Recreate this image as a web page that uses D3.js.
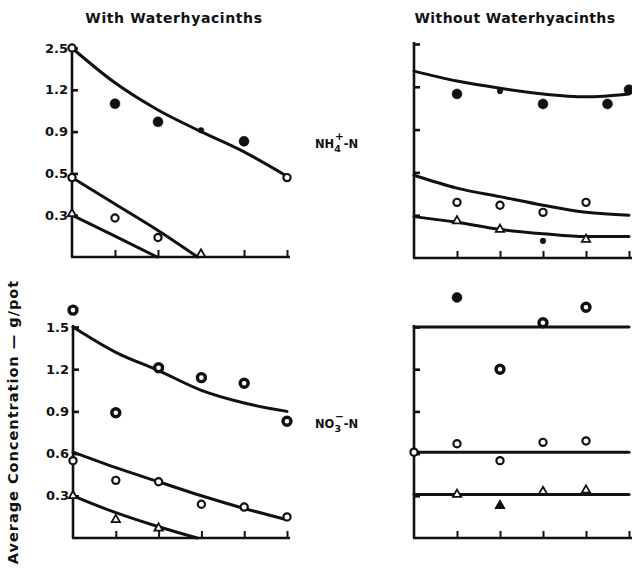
<!DOCTYPE html>
<html>
<head>
<meta charset="utf-8" />
<title>NH4 / NO3 with and without waterhyacinths</title>
<script src="https://d3js.org/d3.v7.min.js"></script>
<style>
    html, body { margin: 0; padding: 0; background: #fff; }
    svg text { font-family: "DejaVu Sans", sans-serif; font-weight: bold; fill: #111; }
</style>
</head>
<body>
<div class="canvas"></div>
<script>
    // x positions (sampling times), same for every panel
    var weeks = [0, 1, 2, 3, 4, 5];
    var yTicks = [0.3, 0.6, 0.9, 1.2, 1.5];
    var tickLabelsTop = ["0.3", "0.5", "0.9", "1.2", "2.5"];   // as printed in the scan
    var tickLabelsBottom = ["0.3", "0.6", "0.9", "1.2", "1.5"];

    // ---- NH4-N, with waterhyacinths ----
    var nhWithCurveHi = [1.50, 1.25, 1.055, 0.90, 0.755, 0.58];
    var nhWithCurveMid = [[0, 0.57], [1, 0.38], [2, 0.19], [2.92, 0]];
    var nhWithCurveLo = [[0, 0.30], [1, 0.15], [1.98, 0]];
    var nhWithFilled = [[1, 1.10], [2, 0.97], [4, 0.83]];
    var nhWithSmall = [[3, 0.91]];
    var nhWithOpen = [[0, 1.5], [0, 0.57], [1, 0.28], [2, 0.14], [5, 0.57]];
    var nhWithTri = [[0, 0.31], [3, 0.02]];

    // ---- NH4-N, without waterhyacinths ----
    var nhWithoutCurveHi = [1.31, 1.24, 1.19, 1.15, 1.13, 1.15];
    var nhWithoutCurveMid = [0.58, 0.49, 0.43, 0.37, 0.32, 0.30];
    var nhWithoutCurveLo = [0.29, 0.25, 0.20, 0.17, 0.15, 0.15];
    var nhWithoutFilled = [[1, 1.15], [3, 1.08], [4.5, 1.08], [5, 1.18]];
    var nhWithoutSmall = [[2, 1.17], [3, 0.12]];
    var nhWithoutOpen = [[1, 0.39], [2, 0.37], [3, 0.32], [4, 0.39]];
    var nhWithoutTri = [[1, 0.26], [2, 0.20], [4, 0.13]];

    // ---- NO3-N, with waterhyacinths ----
    var noWithCurveHi = [1.50, 1.32, 1.19, 1.05, 0.96, 0.90];
    var noWithCurveMid = [0.61, 0.50, 0.40, 0.30, 0.21, 0.13];
    var noWithCurveLo = [[0, 0.30], [1, 0.18], [2, 0.08], [2.9, 0]];
    var noWithRing = [[0, 1.62], [1, 0.89], [2, 1.21], [3, 1.14], [4, 1.10], [5, 0.83]];
    var noWithOpen = [[0, 0.55], [1, 0.41], [2, 0.40], [3, 0.24], [4, 0.22], [5, 0.15]];
    var noWithTri = [[0, 0.30], [1, 0.13], [2, 0.07]];

    // ---- NO3-N, without waterhyacinths ----
    var noWithoutCurveHi = [1.50, 1.50, 1.50, 1.50, 1.50, 1.50];
    var noWithoutCurveMid = [0.61, 0.61, 0.61, 0.61, 0.61, 0.61];
    var noWithoutCurveLo = [0.31, 0.31, 0.31, 0.31, 0.31, 0.31];
    var noWithoutFilled = [[1, 1.71]];
    var noWithoutRing = [[2, 1.20], [3, 1.53], [4, 1.64]];
    var noWithoutOpen = [[0, 0.61], [1, 0.67], [2, 0.55], [3, 0.68], [4, 0.69]];
    var noWithoutTri = [[1, 0.31], [3, 0.33], [4, 0.34]];
    var noWithoutTriFilled = [[2, 0.23]];

    var width = 632, height = 569;
    var svg = d3.select(".canvas").append("svg")
        .attr("width", width).attr("height", height);

    function pair(arr) { return arr.map(function (v, i) { return [weeks[i], v]; }); }

    function panel(o) {
        var x = d3.scaleLinear().domain([0, 5]).range([o.x0, o.x1]);
        var y = d3.scaleLinear().domain([0, 1.5]).range([o.y0, o.y1]);
        var g = svg.append("g");

        var yAxis = d3.axisLeft(y).tickValues(yTicks).tickSize(-6).tickPadding(4)
            .tickFormat(function (d, i) { return o.labels ? o.labels[i] : ""; });
        var ya = g.append("g").attr("transform", "translate(" + o.x0 + ",0)").call(yAxis);
        ya.select(".domain").attr("d", "M0," + (o.y1 - 2) + "V" + o.y0)
            .attr("stroke", "#111").attr("stroke-width", 2.6);
        ya.selectAll(".tick line").attr("stroke", "#111").attr("stroke-width", 2.6);
        ya.selectAll(".tick text").style("font-size", "13px").attr("fill", "#111");

        var xAxis = d3.axisBottom(x).tickValues(weeks.slice(1)).tickSize(-7).tickFormat("");
        var xa = g.append("g").attr("transform", "translate(0," + o.y0 + ")").call(xAxis);
        xa.select(".domain").attr("d", "M" + (o.x0 - 1) + ",0H" + (o.x1 + 3))
            .attr("stroke", "#111").attr("stroke-width", 2.6);
        xa.selectAll(".tick line").attr("stroke", "#111").attr("stroke-width", 2);

        var line = d3.line().x(function (d) { return x(d[0]); }).y(function (d) { return y(d[1]); })
            .curve(d3.curveMonotoneX);
        o.curves.forEach(function (c) {
            g.append("path").datum(c).attr("d", line)
                .attr("fill", "none").attr("stroke", "#111").attr("stroke-width", 3)
                .attr("stroke-linecap", "round");
        });

        function dots(data, r, fill, sw) {
            g.selectAll(null).data(data || []).enter().append("circle")
                .attr("cx", function (d) { return x(d[0]); })
                .attr("cy", function (d) { return y(d[1]); })
                .attr("r", r).attr("fill", fill).attr("stroke", "#111").attr("stroke-width", sw);
        }
        function tris(data, fill) {
            var sym = d3.symbol().type(d3.symbolTriangle).size(30);
            g.selectAll(null).data(data || []).enter().append("path")
                .attr("d", sym)
                .attr("transform", function (d) { return "translate(" + x(d[0]) + "," + y(d[1]) + ")"; })
                .attr("fill", fill).attr("stroke", "#111").attr("stroke-width", 1.8);
        }
        dots(o.filled, 5, "#111", 0.5);
        dots(o.small, 2.8, "#111", 0.5);
        dots(o.open, 3.6, "#fff", 2.2);
        dots(o.ring, 4, "#fff", 3.4);
        tris(o.tri, "#fff");
        tris(o.triFilled, "#111");
    }

    panel({ x0: 72, x1: 287, y0: 257, y1: 48, labels: tickLabelsTop,
        curves: [pair(nhWithCurveHi), nhWithCurveMid, nhWithCurveLo],
        filled: nhWithFilled, small: nhWithSmall, open: nhWithOpen, tri: nhWithTri });
    panel({ x0: 414, x1: 629, y0: 258, y1: 44, labels: null,
        curves: [pair(nhWithoutCurveHi), pair(nhWithoutCurveMid), pair(nhWithoutCurveLo)],
        filled: nhWithoutFilled, small: nhWithoutSmall, open: nhWithoutOpen, tri: nhWithoutTri });
    panel({ x0: 73, x1: 287, y0: 538, y1: 327, labels: tickLabelsBottom,
        curves: [pair(noWithCurveHi), pair(noWithCurveMid), noWithCurveLo],
        ring: noWithRing, open: noWithOpen, tri: noWithTri });
    panel({ x0: 414, x1: 629, y0: 538, y1: 327, labels: null,
        curves: [pair(noWithoutCurveHi), pair(noWithoutCurveMid), pair(noWithoutCurveLo)],
        filled: noWithoutFilled, ring: noWithoutRing, open: noWithoutOpen,
        tri: noWithoutTri, triFilled: noWithoutTriFilled });

    // titles
    svg.append("text").attr("x", 174).attr("y", 23).attr("text-anchor", "middle")
        .style("font-size", "14px").style("letter-spacing", "0.6px").text("With Waterhyacinths");
    svg.append("text").attr("x", 515).attr("y", 23).attr("text-anchor", "middle")
        .style("font-size", "14px").style("letter-spacing", "0.4px").text("Without Waterhyacinths");

    // row labels
    var nh = svg.append("text").attr("x", 315).attr("y", 148).style("font-size", "11.5px");
    nh.append("tspan").text("NH");
    nh.append("tspan").attr("dy", 4).style("font-size", "9.5px").text("4");
    nh.append("tspan").attr("dx", -6).attr("dy", -12).style("font-size", "10.5px").text("+");
    nh.append("tspan").attr("dy", 8).text("-N");

    var no = svg.append("text").attr("x", 315).attr("y", 428).style("font-size", "11.5px");
    no.append("tspan").text("NO");
    no.append("tspan").attr("dy", 4).style("font-size", "9.5px").text("3");
    no.append("tspan").attr("dx", -6).attr("dy", -12).style("font-size", "10.5px").text("\u2212");
    no.append("tspan").attr("dy", 8).text("-N");

    // y title
    svg.append("text").attr("transform", "translate(18,422) rotate(-90)")
        .attr("text-anchor", "middle").style("font-size", "14.5px").style("letter-spacing", "1px")
        .text("Average Concentration \u2014 g/pot");
</script>
</body>
</html>
